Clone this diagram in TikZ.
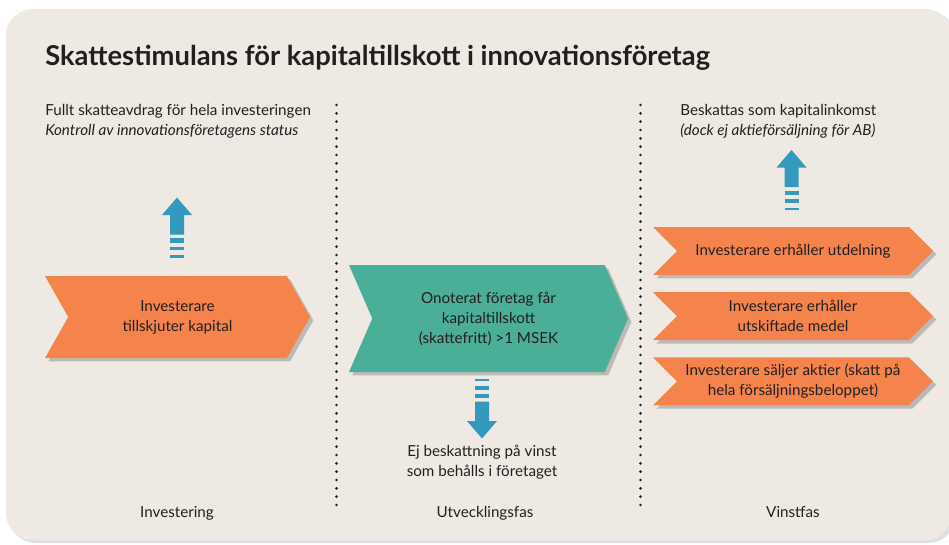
\documentclass[tikz,border=0pt]{standalone}
\usepackage{fontspec}
\setmainfont{Lato}
\usetikzlibrary{positioning}
\usetikzlibrary{shapes.symbols}
\usetikzlibrary{shadows}
\definecolor{paper}{HTML}{EEEAE3}
\definecolor{invorange}{HTML}{F5844C}
\definecolor{devteal}{HTML}{4BAE98}
\definecolor{flowblue}{HTML}{3399BD}
\definecolor{inktext}{HTML}{231F20}
\tikzset{
  chevron/.style={signal, signal to=east, signal from=west, inner sep=0pt,
                  align=center, text=inktext,
                  font=\fontsize{11.4}{15}\selectfont,
                  drop shadow={shadow xshift=2.5pt, shadow yshift=-2.5pt,
                               fill=black!45, opacity=0.5}},
  note/.style={align=left, inner sep=0pt, text=inktext,
               font=\fontsize{11.4}{15}\selectfont},
  phaselabel/.style={inner sep=0pt, text=inktext, anchor=base,
                     font=\fontsize{11.4}{13}\selectfont},
  phasesep/.style={inktext, line width=2.2pt, line cap=round,
                   dash pattern=on 0pt off 6.25pt},
  stripearrow/.pic={
    \fill[flowblue] (0,0) -- (15,-17.5) -- (7,-17.5) -- (7,-37)
          -- (-7,-37) -- (-7,-17.5) -- (-15,-17.5) -- cycle;
    \fill[flowblue] (-7,-40.5) rectangle (7,-45);
    \fill[flowblue] (-7,-49) rectangle (7,-52.5);
    \fill[flowblue] (-7,-57.5) rectangle (7,-60);
  }
}
\begin{document}
\begin{tikzpicture}[x=0.75pt, y=0.75pt]
\useasboundingbox (0,0) rectangle (949,-544);
% background card
\fill[black!12, rounded corners=20] (9,-11) rectangle (955,-543);
\fill[paper, rounded corners=20] (6,-9) rectangle (952,-540);

\node[anchor=west, inner sep=0pt, text=inktext,
      font=\fontsize{20.5}{24}\selectfont\bfseries] (title) at (45,-58)
  {Skattestimulans för kapitaltillskott i innovationsföretag};

% phase separators
\coordinate (sepAtop) at (336.5,-105);
\coordinate (sepAbot) at (336.5,-508);
\coordinate (sepBtop) at (640.5,-105);
\coordinate (sepBbot) at (640.5,-508);
\draw[phasesep] (sepAtop) -- (sepAbot);
\draw[phasesep] (sepBtop) -- (sepBbot);

% investering
\node[note, anchor=north west] (deduct) at (45,-104)
  {Fullt skatteavdrag för hela investeringen\\
   \textit{Kontroll av innovationsföretagens status}};
\node[chevron, fill=invorange, minimum width=198.75pt, minimum height=61.5pt,
      signal pointer angle=121] (invest) at (177.5,-317)
  {Investerare\\tillskjuter kapital};
\pic at (177,-197.5) {stripearrow};

% utvecklingsfas
\node[chevron, fill=devteal, minimum width=209.25pt, minimum height=80.25pt,
      signal pointer angle=133] (startup) at (488.5,-318.5)
  {Onoterat företag får\\kapitaltillskott\\(skattefritt) >1 MSEK};
\pic[rotate=180] at (482,-438.5) {stripearrow};
\node[note, align=center] (retained) at (482,-462)
  {Ej beskattning på vinst\\som behålls i företaget};

% vinstfas
\node[note, anchor=north west] (capinc) at (680,-104)
  {Beskattas som kapitalinkomst\\
   \textit{(dock ej aktieförsäljning för AB)}};
\pic at (791.5,-150) {stripearrow};
\node[chevron, fill=invorange, minimum width=210pt, minimum height=36pt,
      signal pointer angle=90] (dividend) at (793,-251)
  {Investerare erhåller utdelning};
\node[chevron, fill=invorange, minimum width=210pt, minimum height=36pt,
      signal pointer angle=90, below=12.5pt of dividend] (payout)
  {Investerare erhåller\\utskiftade medel};
\node[chevron, fill=invorange, minimum width=210pt, minimum height=36pt,
      signal pointer angle=90, below=12.5pt of payout] (sale)
  {Investerare säljer aktier (skatt på\\hela försäljningsbeloppet)};

% phase names
\node[phaselabel] (phaseA) at (177,-517) {Investering};
\node[phaselabel] (phaseB) at (485,-517) {Utvecklingsfas};
\node[phaselabel] (phaseC) at (793,-517) {Vinstfas};
\end{tikzpicture}
\end{document}
